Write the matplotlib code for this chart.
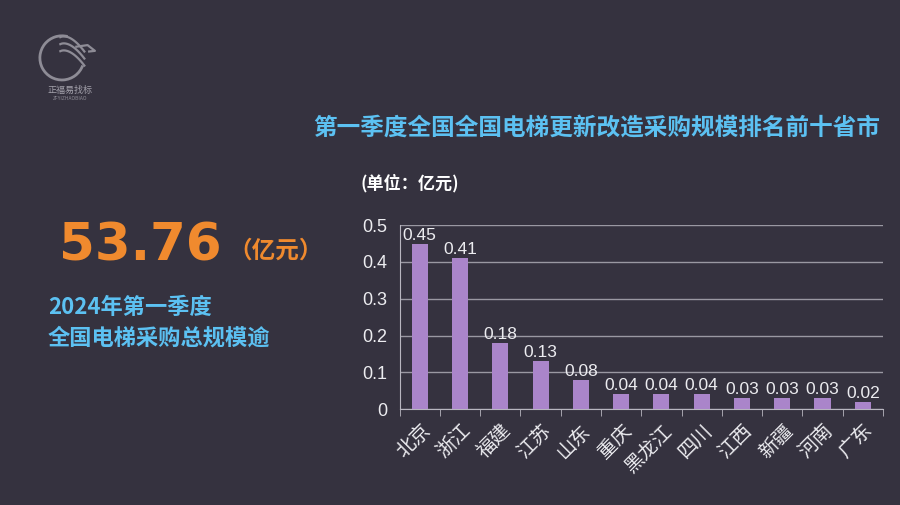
import numpy as np
import matplotlib
matplotlib.use('Agg')
import matplotlib.pyplot as plt
from matplotlib.patches import Arc

plt.rcParams['font.family'] = ['Noto Sans CJK SC', 'DejaVu Sans']

provinces = ['北京', '浙江', '福建', '江苏', '山东', '重庆', '黑龙江', '四川', '江西', '新疆', '河南', '广东']
amounts = [0.45, 0.41, 0.18, 0.13, 0.08, 0.04, 0.04, 0.04, 0.03, 0.03, 0.03, 0.02]
y_ticks = [0, 0.1, 0.2, 0.3, 0.4, 0.5]
y_tick_labels = ['0', '0.1', '0.2', '0.3', '0.4', '0.5']

bg = '#35323f'
bar_color = '#aa85ca'
cyan = '#5cc1f2'
orange = '#f08a2e'
text_color = '#ececf0'
logo_color = '#8e8c96'
num_font = ['Liberation Sans', 'Noto Sans CJK SC']

fig = plt.figure(figsize=(9, 5.05), dpi=100, facecolor=bg)

ax = fig.add_axes([0.444, 0.190, 0.537, 0.364])
ax.set_facecolor(bg)
x = np.arange(len(provinces))
ax.bar(x, amounts, width=0.4, color=bar_color, zorder=3)
for xi, v in zip(x, amounts):
    ax.text(xi, v + 0.003, f'{v:.2f}', ha='center', va='bottom', fontsize=12.5,
            color=text_color, family=num_font, zorder=4)

ax.set_xlim(-0.5, len(provinces) - 0.5)
ax.set_ylim(0, 0.5)
ax.set_yticks(y_ticks)
ax.set_yticklabels(y_tick_labels, family=num_font, fontsize=13, color=text_color)
ax.yaxis.grid(True, color='#9a98a2', linewidth=1.0, zorder=0)
ax.tick_params(axis='y', length=0, pad=9)
ax.set_xticks(x)
ax.set_xticklabels(provinces, rotation=45, ha='right', rotation_mode='anchor',
                   fontsize=14, color=text_color)
ax.tick_params(axis='x', length=0, pad=8)
ax.set_xticks(np.arange(len(provinces) + 1) - 0.5, minor=True)
ax.tick_params(axis='x', which='minor', length=5, color='#b8b6c0', direction='out')
for s in ['top', 'right']:
    ax.spines[s].set_visible(False)
ax.spines['left'].set_color('#b8b6c0')
ax.spines['bottom'].set_color('#b8b6c0')

# titles
fig.text(0.978, 0.748, '第一季度全国全国电梯更新改造采购规模排名前十省市', ha='right', va='center',
         fontsize=17, fontweight='bold', color=cyan)
fig.text(0.400, 0.637, '(单位：亿元)', ha='left', va='center',
         fontsize=12.3, fontweight='bold', color='white')

# left summary
fig.text(0.066, 0.511, '53.76', ha='left', va='center', fontsize=37, fontweight='bold',
         color=orange, family=['DejaVu Sans'])
fig.text(0.254, 0.503, '（亿元）', ha='left', va='center', fontsize=17, fontweight='bold',
         color=orange)
fig.text(0.053, 0.392, '2024年第一季度', ha='left', va='center', fontsize=16,
         fontweight='bold', color=cyan)
fig.text(0.053, 0.330, '全国电梯采购总规模逾', ha='left', va='center', fontsize=16,
         fontweight='bold', color=cyan)

# logo (circle + bird swooshes)
lax = fig.add_axes([0.0333, 0.822, 0.0711, 0.1267])
lax.set_xlim(-1, 1)
lax.set_ylim(-1, 1)
lax.set_aspect('equal')
lax.axis('off')
lax.add_patch(Arc((0, 0), 1.38, 1.38, theta1=75, theta2=340, color=logo_color, linewidth=2))
t = np.linspace(0, 1, 30)
for k in range(3):
    lax.plot(-0.05 + 0.75 * t, 0.65 - 0.22 * k - 0.9 * t ** 1.6 + 0.45 * t,
             color=logo_color, linewidth=1.6, clip_on=False)
lax.plot([0.45, 0.8, 1.03, 0.85], [0.35, 0.4, 0.22, 0.2], color=logo_color,
         linewidth=1.6, clip_on=False)
fig.text(0.078, 0.820, '正福易找标', ha='center', va='center', fontsize=6.5, color='#a4a2ac')
fig.text(0.078, 0.804, 'ZFYIZHAOBIAO', ha='center', va='center', fontsize=3.5, color=logo_color)

fig.savefig('out.png', dpi=100, facecolor=bg)
